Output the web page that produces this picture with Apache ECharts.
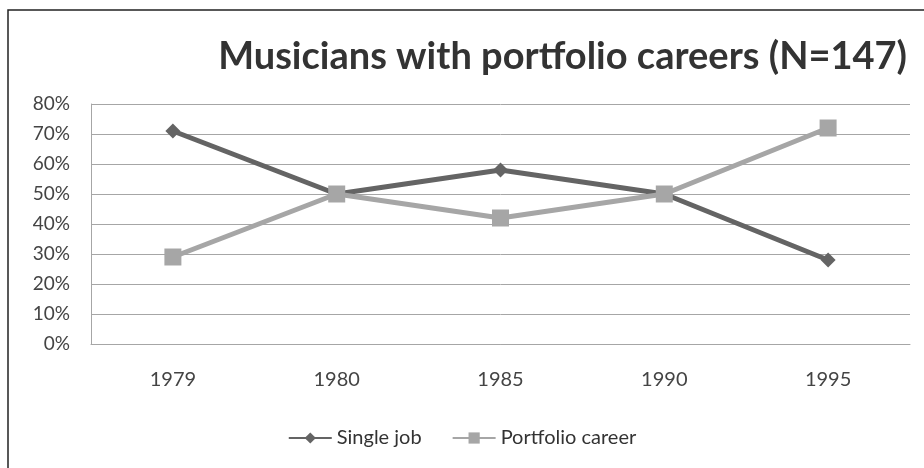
<!DOCTYPE html>
<html>
<head>
<meta charset="utf-8">
<script src="https://cdn.jsdelivr.net/npm/echarts@6/dist/echarts.min.js"></script>
<style>html,body{margin:0;padding:0;background:#fff}#c{width:924px;height:468px}</style>
</head>
<body>
<div id="c"></div>
<script>
var categories = ['1979', '1980', '1985', '1990', '1995'];
var singleJob = [71, 50, 58, 50, 28];
var portfolioCareer = [29, 50, 42, 50, 72];
var yTicks = [0, 10, 20, 30, 40, 50, 60, 70, 80];
var titleText = 'Musicians with portfolio careers (N=147)';
var seriesNames = ['Single job', 'Portfolio career'];

var chart = echarts.init(document.getElementById('c'));
var font = 'Lato, "Open Sans", sans-serif';
chart.setOption({
  animation: false,
  backgroundColor: '#fff',
  title: {
    text: titleText,
    right: 12,
    top: 33,
    textStyle: {fontFamily: font, fontWeight: 'bold', fontSize: 38, color: '#333'}
  },
  legend: {
    bottom: 15,
    left: 'center',
    itemWidth: 43,
    itemHeight: 14,
    itemGap: 30,
    textStyle: {fontFamily: font, fontSize: 20, color: '#333'},
    data: seriesNames
  },
  graphic: [{
    type: 'rect',
    shape: {x: 8, y: 10, width: 1000, height: 1000},
    style: {fill: 'none', stroke: '#222', lineWidth: 1.5},
    silent: true
  }],
  grid: {left: 91, right: 14, top: 104, bottom: 124},
  xAxis: {
    type: 'category',
    data: categories,
    boundaryGap: true,
    axisLine: {show: true, lineStyle: {color: '#a6a6a6', width: 1}},
    axisTick: {show: false},
    axisLabel: {margin: 26, fontFamily: font, fontSize: 20, color: '#444'}
  },
  yAxis: {
    type: 'value',
    min: yTicks[0],
    max: yTicks[yTicks.length - 1],
    interval: 10,
    axisLine: {show: true, lineStyle: {color: '#a6a6a6', width: 1}},
    axisTick: {show: false},
    splitLine: {lineStyle: {color: '#a6a6a6', width: 1}},
    axisLabel: {margin: 21, fontFamily: font, fontSize: 19, color: '#444', formatter: '{value}%'}
  },
  series: [{
    name: seriesNames[0],
    type: 'line',
    data: singleJob,
    symbol: 'diamond',
    symbolSize: 15,
    lineStyle: {color: '#646464', width: 5},
    itemStyle: {color: '#646464'}
  }, {
    name: seriesNames[1],
    type: 'line',
    data: portfolioCareer,
    symbol: 'rect',
    symbolSize: 17,
    lineStyle: {color: '#a6a6a6', width: 5},
    itemStyle: {color: '#a6a6a6'}
  }]
});
</script>
</body>
</html>
